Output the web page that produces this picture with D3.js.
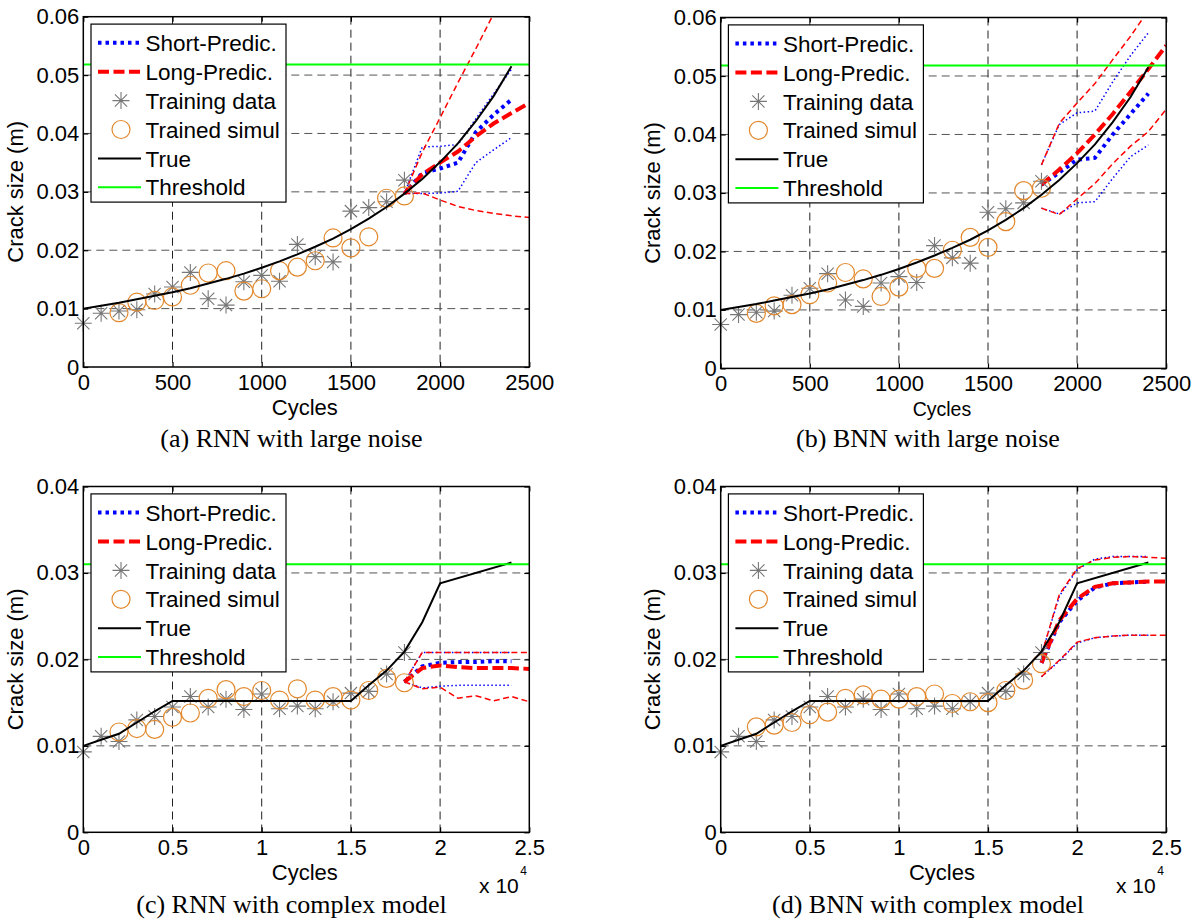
<!DOCTYPE html>
<html>
<head>
<meta charset="utf-8">
<script src="https://cdn.jsdelivr.net/npm/d3@7"></script>
<style>
  body { margin: 0; background: #fff; }
  svg { display: block; }
</style>
</head>
<body>
<script>
// ---- (a), (b): large noise, cycles ----
const noiseCycles = [0, 100, 200, 300, 400, 500, 600, 700, 800, 900, 1000, 1100, 1200, 1300, 1400, 1500, 1600, 1700, 1800];
const noiseTraining = [0.0075, 0.0092, 0.0096, 0.0098, 0.0125, 0.0137, 0.0162, 0.0117, 0.0106, 0.0146, 0.0157, 0.0147, 0.0210, 0.0189, 0.0180, 0.0267, 0.0273, 0.0283, 0.0320];
const noiseSimCycles = [200, 300, 400, 500, 600, 700, 800, 900, 1000, 1100, 1200, 1300, 1400, 1500, 1600, 1700, 1800];
const rnnNoiseSim = [0.0093, 0.0111, 0.0114, 0.0120, 0.0140, 0.0161, 0.0165, 0.0130, 0.0134, 0.0165, 0.0171, 0.0182, 0.0221, 0.0204, 0.0223, 0.0289, 0.0293];
const bnnNoiseSim = [0.0094, 0.0107, 0.0109, 0.0126, 0.0146, 0.0164, 0.0153, 0.0123, 0.0139, 0.0171, 0.0171, 0.0202, 0.0224, 0.0207, 0.0251, 0.0304, 0.0308];
const noiseTrueCycles = [0, 100, 200, 300, 400, 500, 600, 700, 800, 900, 1000, 1100, 1200, 1300, 1400, 1500, 1600, 1700, 1800, 1900, 2000, 2100, 2200, 2300, 2400];
const noiseTrue = [0.0100, 0.0105, 0.0110, 0.0116, 0.0122, 0.0128, 0.0135, 0.0143, 0.0151, 0.0160, 0.0170, 0.0181, 0.0193, 0.0206, 0.0220, 0.0236, 0.0254, 0.0274, 0.0297, 0.0322, 0.0351, 0.0383, 0.0421, 0.0464, 0.0515];
const noiseThreshold = 0.0518;
const noiseShortCycles = [1800, 1900, 2000, 2100, 2200, 2300, 2400];
const noiseLongCycles = [1800, 1900, 2000, 2100, 2200, 2300, 2400, 2500];

const rnnNoiseShortMid = [0.0297, 0.0332, 0.0340, 0.0350, 0.0402, 0.0432, 0.0458];
const rnnNoiseShortUp = [0.0297, 0.0377, 0.0378, 0.0381, 0.0425, 0.0468, 0.0510];
const rnnNoiseShortLow = [0.0297, 0.0297, 0.0298, 0.0301, 0.0350, 0.0372, 0.0393];
const rnnNoiseLongMid = [0.0297, 0.0330, 0.0350, 0.0369, 0.0395, 0.0417, 0.0435, 0.0452];
const rnnNoiseLongUp = [0.0297, 0.0368, 0.0427, 0.0487, 0.0545, 0.0605, 0.0668, 0.0730];
const rnnNoiseLongLow = [0.0297, 0.0298, 0.0286, 0.0275, 0.0268, 0.0263, 0.0259, 0.0256];

const bnnNoiseShortMid = [0.0314, 0.0335, 0.0357, 0.0360, 0.0400, 0.0435, 0.0470];
const bnnNoiseShortUp = [0.0348, 0.0417, 0.0437, 0.0440, 0.0490, 0.0535, 0.0574];
const bnnNoiseShortLow = [0.0274, 0.0264, 0.0283, 0.0285, 0.0325, 0.0362, 0.0382];
const bnnNoiseLongMid = [0.0314, 0.0340, 0.0368, 0.0400, 0.0435, 0.0473, 0.0512, 0.0552];
const bnnNoiseLongUp = [0.0348, 0.0419, 0.0454, 0.0487, 0.0528, 0.0568, 0.0612, 0.0655];
const bnnNoiseLongLow = [0.0274, 0.0263, 0.0290, 0.0316, 0.0350, 0.0380, 0.0405, 0.0443];

// ---- (c), (d): complex model, cycles x 10^4 ----
const complexCycles = [0, 0.1, 0.2, 0.3, 0.4, 0.5, 0.6, 0.7, 0.8, 0.9, 1.0, 1.1, 1.2, 1.3, 1.4, 1.5, 1.6, 1.7, 1.8];
const complexTraining = [0.0093, 0.0111, 0.0105, 0.0130, 0.0134, 0.0145, 0.0157, 0.0145, 0.0154, 0.0142, 0.0160, 0.0143, 0.0146, 0.0143, 0.0151, 0.0161, 0.0163, 0.0183, 0.0208];
const complexSimCycles = [0.2, 0.3, 0.4, 0.5, 0.6, 0.7, 0.8, 0.9, 1.0, 1.1, 1.2, 1.3, 1.4, 1.5, 1.6, 1.7, 1.8];
const rnnComplexSim = [0.0116, 0.0120, 0.0119, 0.0133, 0.0138, 0.0155, 0.0165, 0.0157, 0.0164, 0.0153, 0.0166, 0.0153, 0.0157, 0.0153, 0.0164, 0.0178, 0.0173];
const bnnComplexSim = [0.0122, 0.0124, 0.0127, 0.0136, 0.0139, 0.0155, 0.0159, 0.0154, 0.0154, 0.0157, 0.0160, 0.0149, 0.0151, 0.0150, 0.0164, 0.0176, 0.0195];
const complexTrueCycles = [0, 0.1, 0.2, 0.3, 0.4, 0.5, 1.5, 1.6, 1.7, 1.8, 1.9, 2.0, 2.4];
const complexTrue = [0.0100, 0.0107, 0.0114, 0.0127, 0.0140, 0.0152, 0.0152, 0.0170, 0.0187, 0.0209, 0.0243, 0.0288, 0.0312];
const complexThreshold = 0.0310;
const complexShortCycles = [1.8, 1.9, 2.0, 2.1, 2.2, 2.3, 2.4];
const complexLongCycles = [1.8, 1.9, 2.0, 2.1, 2.2, 2.3, 2.4, 2.5];

const rnnComplexShortMid = [0.0174, 0.0192, 0.0196, 0.0197, 0.0197, 0.0198, 0.0198];
const rnnComplexShortUp = [0.0174, 0.0208, 0.0208, 0.0208, 0.0208, 0.0208, 0.0208];
const rnnComplexShortLow = [0.0174, 0.0167, 0.0169, 0.0170, 0.0170, 0.0170, 0.0170];
const rnnComplexLongMid = [0.0174, 0.0190, 0.0193, 0.0191, 0.0190, 0.0190, 0.0190, 0.0189];
const rnnComplexLongUp = [0.0174, 0.0208, 0.0208, 0.0208, 0.0208, 0.0208, 0.0208, 0.0208];
const rnnComplexLongLow = [0.0174, 0.0166, 0.0168, 0.0155, 0.0158, 0.0152, 0.0157, 0.0151];

const bnnComplexShortMid = [0.0196, 0.0243, 0.0268, 0.0283, 0.0288, 0.0289, 0.0290];
const bnnComplexShortUp = [0.0205, 0.0273, 0.0304, 0.0316, 0.0319, 0.0319, 0.0319];
const bnnComplexShortLow = [0.0180, 0.0198, 0.0219, 0.0225, 0.0227, 0.0228, 0.0228];
const bnnComplexLongMid = [0.0196, 0.0245, 0.0270, 0.0284, 0.0288, 0.0289, 0.0290, 0.0290];
const bnnComplexLongUp = [0.0205, 0.0275, 0.0305, 0.0315, 0.0318, 0.0319, 0.0318, 0.0317];
const bnnComplexLongLow = [0.0180, 0.0199, 0.0220, 0.0225, 0.0227, 0.0228, 0.0228, 0.0228];

// ticks
const noiseXTicks = [0, 500, 1000, 1500, 2000, 2500];
const noiseYTicks = [0, 0.01, 0.02, 0.03, 0.04, 0.05, 0.06];
const complexXTicks = [0, 0.5, 1, 1.5, 2, 2.5];
const complexYTicks = [0, 0.01, 0.02, 0.03, 0.04];

const legendLabels = ["Short-Predic.", "Long-Predic.", "Training data", "Trained simul", "True", "Threshold"];
const captions = ["(a) RNN with large noise", "(b) BNN with large noise", "(c) RNN with complex model", "(d) BNN with complex model"];

const SANS = '"Liberation Sans", Arial, sans-serif';
const SERIF = '"Liberation Serif", "Times New Roman", serif';
const ORANGE = "#e2892e", GRAY = "#777";

const svg = d3.select("body").append("svg").attr("width", 1193).attr("height", 922);
svg.append("rect").attr("width", 1193).attr("height", 922).attr("fill", "#fff");

const zip = (xs, ys) => xs.map((v, i) => [v, ys[i]]);

function starPath(r) {
  const a = r * 0.72;
  return `M${-r},0H${r}M0,${-r}V${r}M${-a},${-a}L${a},${a}M${-a},${a}L${a},${-a}`;
}

const panels = [
  { id: "a", left: 83.3, top: 16.7, width: 446, height: 350.3, xTicks: noiseXTicks, yTicks: noiseYTicks,
    training: zip(noiseCycles, noiseTraining), sim: zip(noiseSimCycles, rnnNoiseSim), truth: zip(noiseTrueCycles, noiseTrue),
    threshold: noiseThreshold,
    shortLines: [zip(noiseShortCycles, rnnNoiseShortUp), zip(noiseShortCycles, rnnNoiseShortLow)], shortMid: zip(noiseShortCycles, rnnNoiseShortMid),
    longLines: [zip(noiseLongCycles, rnnNoiseLongUp), zip(noiseLongCycles, rnnNoiseLongLow)], longMid: zip(noiseLongCycles, rnnNoiseLongMid),
    cyclesSize: 22, exponent: false, caption: captions[0], capX: 291.5, capY: 446.5 },
  { id: "b", left: 720.7, top: 17.5, width: 445.5, height: 350.9, xTicks: noiseXTicks, yTicks: noiseYTicks,
    training: zip(noiseCycles, noiseTraining), sim: zip(noiseSimCycles, bnnNoiseSim), truth: zip(noiseTrueCycles, noiseTrue),
    threshold: noiseThreshold,
    shortLines: [zip(noiseShortCycles, bnnNoiseShortUp), zip(noiseShortCycles, bnnNoiseShortLow)], shortMid: zip(noiseShortCycles, bnnNoiseShortMid),
    longLines: [zip(noiseLongCycles, bnnNoiseLongUp), zip(noiseLongCycles, bnnNoiseLongLow)], longMid: zip(noiseLongCycles, bnnNoiseLongMid),
    cyclesSize: 19.5, exponent: false, caption: captions[1], capX: 928, capY: 446.5 },
  { id: "c", left: 83.3, top: 486.5, width: 446, height: 345.8, xTicks: complexXTicks, yTicks: complexYTicks,
    training: zip(complexCycles, complexTraining), sim: zip(complexSimCycles, rnnComplexSim), truth: zip(complexTrueCycles, complexTrue),
    threshold: complexThreshold,
    shortLines: [zip(complexShortCycles, rnnComplexShortUp), zip(complexShortCycles, rnnComplexShortLow)], shortMid: zip(complexShortCycles, rnnComplexShortMid),
    longLines: [zip(complexLongCycles, rnnComplexLongUp), zip(complexLongCycles, rnnComplexLongLow)], longMid: zip(complexLongCycles, rnnComplexLongMid),
    cyclesSize: 22, exponent: true, caption: captions[2], capX: 291.5, capY: 913 },
  { id: "d", left: 720.7, top: 486.5, width: 445.5, height: 345.8, xTicks: complexXTicks, yTicks: complexYTicks,
    training: zip(complexCycles, complexTraining), sim: zip(complexSimCycles, bnnComplexSim), truth: zip(complexTrueCycles, complexTrue),
    threshold: complexThreshold,
    shortLines: [zip(complexShortCycles, bnnComplexShortUp), zip(complexShortCycles, bnnComplexShortLow)], shortMid: zip(complexShortCycles, bnnComplexShortMid),
    longLines: [zip(complexLongCycles, bnnComplexLongUp), zip(complexLongCycles, bnnComplexLongLow)], longMid: zip(complexLongCycles, bnnComplexLongMid),
    cyclesSize: 22, exponent: true, caption: captions[3], capX: 928, capY: 913 }
];

// line styles
const sty = {
  shortThin: { stroke: "#0000ff", width: 1.5, dash: "1.5,2.5" },
  shortThick: { stroke: "#0000ff", width: 4, dash: "3.5,4" },
  longThin: { stroke: "#ff0000", width: 1.5, dash: "6,3.5" },
  longThick: { stroke: "#ff0000", width: 4, dash: "11,4.5" },
  truth: { stroke: "#000", width: 2, dash: null },
  thresh: { stroke: "#00ff00", width: 2, dash: null }
};

panels.forEach(p => {
  const x = d3.scaleLinear().domain(d3.extent(p.xTicks)).range([p.left, p.left + p.width]);
  const y = d3.scaleLinear().domain(d3.extent(p.yTicks)).range([p.top + p.height, p.top]);
  const g = svg.append("g");

  g.append("clipPath").attr("id", "clip-" + p.id)
    .append("rect").attr("x", p.left).attr("y", p.top).attr("width", p.width).attr("height", p.height);

  // grid
  g.selectAll("line.vg").data(p.xTicks.slice(1, -1)).enter().append("line")
    .attr("x1", d => x(d)).attr("x2", d => x(d)).attr("y1", p.top).attr("y2", p.top + p.height)
    .attr("stroke", "#222").attr("stroke-width", 1).attr("stroke-dasharray", "8,5");
  g.selectAll("line.hg").data(p.yTicks.slice(1, -1)).enter().append("line")
    .attr("y1", d => y(d)).attr("y2", d => y(d)).attr("x1", p.left).attr("x2", p.left + p.width)
    .attr("stroke", "#555").attr("stroke-width", 1).attr("stroke-dasharray", "8,5");

  const plot = g.append("g").attr("clip-path", `url(#clip-${p.id})`);
  const line = d3.line().x(d => x(d[0])).y(d => y(d[1]));
  const drawLine = (data, s) => plot.append("path").datum(data)
    .attr("d", line).attr("fill", "none").attr("stroke", s.stroke).attr("stroke-width", s.width)
    .attr("stroke-dasharray", s.dash);

  // predictions: short (blue) then long (red)
  p.shortLines.forEach(l => drawLine(l, sty.shortThin));
  drawLine(p.shortMid, sty.shortThick);
  p.longLines.forEach(l => drawLine(l, sty.longThin));
  drawLine(p.longMid, sty.longThick);

  // markers are not clipped (like MATLAB)
  const marks = g.append("g");
  marks.selectAll("path.star").data(p.training).enter().append("path")
    .attr("transform", d => `translate(${x(d[0])},${y(d[1])})`)
    .attr("d", starPath(8.5)).attr("stroke", GRAY).attr("stroke-width", 1.1).attr("fill", "none");
  marks.selectAll("circle.sim").data(p.sim).enter().append("circle")
    .attr("cx", d => x(d[0])).attr("cy", d => y(d[1])).attr("r", 9)
    .attr("fill", "none").attr("stroke", ORANGE).attr("stroke-width", 1.2);

  const top = g.append("g").attr("clip-path", `url(#clip-${p.id})`);
  const drawTop = (data, s) => top.append("path").datum(data)
    .attr("d", line).attr("fill", "none").attr("stroke", s.stroke).attr("stroke-width", s.width);
  drawTop(p.truth, sty.truth);
  drawTop(x.domain().map(v => [v, p.threshold]), sty.thresh);

  // axes (ticks pointing inward)
  const fmt = d3.format("~g");
  const ax = g.append("g").attr("transform", `translate(0,${p.top + p.height})`)
    .call(d3.axisBottom(x).tickValues(p.xTicks).tickFormat(fmt).tickSizeInner(-5).tickSizeOuter(0).tickPadding(7));
  const ay = g.append("g").attr("transform", `translate(${p.left},0)`)
    .call(d3.axisLeft(y).tickValues(p.yTicks).tickFormat(fmt).tickSizeInner(-5).tickSizeOuter(0).tickPadding(4));
  const at = g.append("g").attr("transform", `translate(0,${p.top})`)
    .call(d3.axisTop(x).tickValues(p.xTicks).tickFormat("").tickSizeInner(-5).tickSizeOuter(0));
  const ar = g.append("g").attr("transform", `translate(${p.left + p.width},0)`)
    .call(d3.axisRight(y).tickValues(p.yTicks).tickFormat("").tickSizeInner(-5).tickSizeOuter(0));
  [ax, ay, at, ar].forEach(a => {
    a.select(".domain").remove();
    a.selectAll("line").attr("stroke", "#000").attr("stroke-width", 1.2);
  });
  ax.selectAll("text").attr("font-family", SANS).attr("font-size", 22).attr("fill", "#000");
  ay.selectAll("text").attr("font-family", SANS).attr("font-size", 22).attr("fill", "#000");

  g.append("rect").attr("x", p.left).attr("y", p.top).attr("width", p.width).attr("height", p.height)
    .attr("fill", "none").attr("stroke", "#000").attr("stroke-width", 1.5);

  // legend
  const lx = p.left + 7.7, ly = p.top + 7.4;
  const leg = g.append("g");
  leg.append("rect").attr("x", lx).attr("y", ly).attr("width", 195).attr("height", 178)
    .attr("fill", "#fff").attr("stroke", "#000").attr("stroke-width", 1.2);
  const legStyles = [sty.shortThick, sty.longThick, "star", "circle", sty.truth, sty.thresh];
  legendLabels.forEach((lab, i) => {
    const ry = ly + 18.7 + i * 28.9;
    const s = legStyles[i];
    if (s === "star") {
      leg.append("path").attr("transform", `translate(${lx + 30},${ry})`).attr("d", starPath(8.5))
        .attr("stroke", GRAY).attr("stroke-width", 1.1).attr("fill", "none");
    } else if (s === "circle") {
      leg.append("circle").attr("cx", lx + 30).attr("cy", ry).attr("r", 9)
        .attr("fill", "none").attr("stroke", ORANGE).attr("stroke-width", 1.2);
    } else {
      leg.append("line").attr("x1", lx + 7).attr("x2", lx + 50).attr("y1", ry).attr("y2", ry)
        .attr("stroke", s.stroke).attr("stroke-width", s.width).attr("stroke-dasharray", s.dash);
    }
    leg.append("text").attr("x", lx + 54.5).attr("y", ry).attr("dy", "0.36em")
      .attr("font-family", SANS).attr("font-size", 22.5).text(lab);
  });

  // axis labels
  g.append("text")
    .attr("transform", `translate(${p.left - 60.5},${p.top + p.height / 2}) rotate(-90)`)
    .attr("text-anchor", "middle").attr("font-family", SANS).attr("font-size", 22)
    .text("Crack size (m)");
  g.append("text").attr("x", p.left + p.width / 2 - 1.5).attr("y", p.top + p.height + 48)
    .attr("text-anchor", "middle").attr("font-family", SANS).attr("font-size", p.cyclesSize)
    .text("Cycles");
  if (p.exponent) {
    g.append("text").attr("x", p.left + p.width - 10.5).attr("y", p.top + p.height + 61)
      .attr("text-anchor", "end").attr("font-family", SANS).attr("font-size", 21).text("x 10");
    g.append("text").attr("x", p.left + p.width - 9).attr("y", p.top + p.height + 43)
      .attr("font-family", SANS).attr("font-size", 12).text("4");
  }

  // caption
  svg.append("text").attr("x", p.capX).attr("y", p.capY).attr("text-anchor", "middle")
    .attr("font-family", SERIF).attr("font-size", 26).text(p.caption);
});
</script>
</body>
</html>
